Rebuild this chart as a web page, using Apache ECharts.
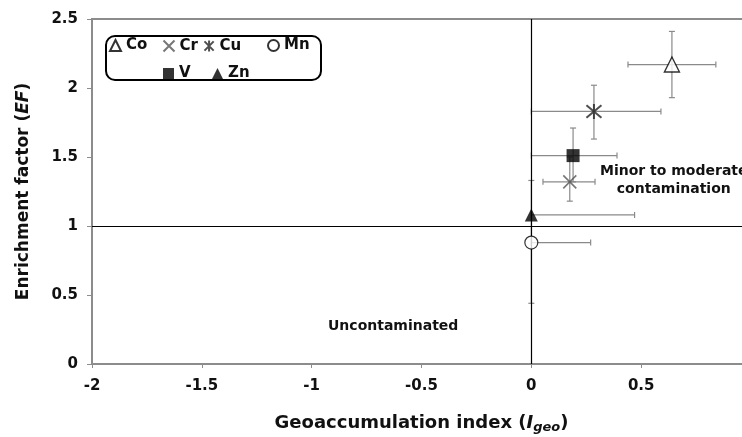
<!DOCTYPE html>
<html>
<head>
<meta charset="utf-8">
<style>
  html, body { margin: 0; padding: 0; background: #fff; }
  #chart { width: 742px; height: 437px; }
</style>
<script src="https://cdn.jsdelivr.net/npm/echarts@6/dist/echarts.min.js"></script>
</head>
<body>
<div id="chart"></div>
<script>
// elements and their values
var elements = ['Co', 'Cr', 'Cu', 'Mn', 'V', 'Zn'];
var igeo     = [0.64, 0.175, 0.285, 0.0, 0.19, 0.0];
var igeoLow  = [0.44, 0.053, 0.0, 0.0, 0.0, 0.0];
var igeoHigh = [0.84, 0.29, 0.59, 0.27, 0.39, 0.47];
var ef       = [2.17, 1.32, 1.83, 0.88, 1.51, 1.08];
var efLow    = [1.93, 1.18, 1.63, 0.44, 1.32, 1.08];
var efHigh   = [2.41, 1.50, 2.02, 1.33, 1.71, 1.08];
var xTicks = [-2, -1.5, -1, -0.5, 0, 0.5, 1];
var yTicks = [0, 0.5, 1, 1.5, 2, 2.5];

var FONT = '"DejaVu Sans", "Liberation Sans", Arial, sans-serif';
var CROSS = 'path://M0,0L10,10M10,0L0,10';
var STAR = 'path://M0,0L10,10M10,0L0,10M5,-1L5,11';

// marker style per element
var markerStyle = {
  Co: { symbol: 'triangle', size: 15, itemStyle: { color: '#fff', borderColor: '#000', borderWidth: 1.4 } },
  Cr: { symbol: CROSS, size: 13, itemStyle: { color: 'none', borderColor: '#555', borderWidth: 1.6 } },
  Cu: { symbol: STAR, size: 15, itemStyle: { color: 'none', borderColor: '#222', borderWidth: 2 } },
  Mn: { symbol: 'circle', size: 13, itemStyle: { color: '#fff', borderColor: '#000', borderWidth: 1.2 } },
  V:  { symbol: 'rect', size: 13, itemStyle: { color: '#000', borderColor: '#000', borderWidth: 0 } },
  Zn: { symbol: 'triangle', size: 13, itemStyle: { color: '#000', borderColor: '#000', borderWidth: 0 } }
};
// legend icon positions inside the box
var legendSpots = { Co: [109, 38], Cr: [161, 38], Cu: [202, 38], Mn: [267, 38], V: [163, 66], Zn: [212, 66] };

var errData = elements.map(function (e, i) {
  return [igeo[i], ef[i], igeoLow[i], igeoHigh[i], efLow[i], efHigh[i]];
});

function renderErr(params, api) {
  var c = api.coord([api.value(0), api.value(1)]);
  var xl = api.coord([api.value(2), api.value(1)]);
  var xh = api.coord([api.value(3), api.value(1)]);
  var yl = api.coord([api.value(0), api.value(4)]);
  var yh = api.coord([api.value(0), api.value(5)]);
  var st = { stroke: '#8a8a8a', lineWidth: 1.2 };
  var cap = 3;
  var kids = [];
  if (xh[0] - xl[0] > 1) {
    kids.push({ type: 'line', shape: { x1: xl[0], y1: c[1], x2: xh[0], y2: c[1] }, style: st });
    kids.push({ type: 'line', shape: { x1: xl[0], y1: c[1] - cap, x2: xl[0], y2: c[1] + cap }, style: st });
    kids.push({ type: 'line', shape: { x1: xh[0], y1: c[1] - cap, x2: xh[0], y2: c[1] + cap }, style: st });
  }
  if (yl[1] - yh[1] > 1) {
    kids.push({ type: 'line', shape: { x1: c[0], y1: yl[1], x2: c[0], y2: yh[1] }, style: st });
    kids.push({ type: 'line', shape: { x1: c[0] - cap, y1: yl[1], x2: c[0] + cap, y2: yl[1] }, style: st });
    kids.push({ type: 'line', shape: { x1: c[0] - cap, y1: yh[1], x2: c[0] + cap, y2: yh[1] }, style: st });
  }
  return { type: 'group', children: kids };
}

var series = [
  {
    type: 'custom',
    renderItem: renderErr,
    data: errData,
    z: 2,
    silent: true
  },
  {
    type: 'line',
    data: [],
    silent: true,
    markLine: {
      silent: true,
      symbol: 'none',
      label: { show: false },
      lineStyle: { color: '#000', width: 1.2, type: 'solid' },
      data: [{ xAxis: 0 }, { yAxis: 1 }]
    },
    z: 1
  }
];
elements.forEach(function (e, i) {
  var m = markerStyle[e];
  series.push({
    name: e,
    type: 'scatter',
    symbol: m.symbol,
    symbolSize: m.size,
    itemStyle: m.itemStyle,
    data: [[igeo[i], ef[i]]],
    z: 5,
    emphasis: { disabled: true }
  });
});

var legends = elements.map(function (e) {
  return {
    data: [e],
    left: legendSpots[e][0],
    top: legendSpots[e][1],
    itemWidth: 11,
    itemHeight: 11,
    selectedMode: false,
    padding: 0,
    z: 20,
    textStyle: { fontFamily: FONT, fontWeight: 'bold', fontSize: 15, color: '#111' }
  };
});

var chart = echarts.init(document.getElementById('chart'), null, { renderer: 'canvas' });
chart.setOption({
  animation: false,
  backgroundColor: '#fff',
  grid: {
    left: 92, top: 19, right: -9, bottom: 73,
    outerBoundsMode: 'none',
    containLabel: false,
    show: true, borderColor: '#8c8c8c', borderWidth: 2
  },
  legend: legends,
  xAxis: {
    type: 'value',
    min: xTicks[0], max: xTicks[xTicks.length - 1], interval: 0.5,
    splitLine: { show: false },
    axisLine: { show: true, onZero: false, lineStyle: { color: '#8c8c8c', width: 2 } },
    axisTick: { show: true, length: 4, lineStyle: { color: '#8c8c8c' } },
    axisLabel: { fontFamily: FONT, fontWeight: 'bold', fontSize: 15, color: '#111', margin: 15 },
    name: '{n|Geoaccumulation index (}{i|I}{s|geo}{n|)}',
    nameLocation: 'middle',
    nameGap: 49,
    nameTextStyle: {
      rich: {
        n: { fontFamily: FONT, fontWeight: 'bold', fontSize: 18, color: '#111' },
        i: { fontFamily: FONT, fontWeight: 'bold', fontStyle: 'italic', fontSize: 18, color: '#111' },
        s: { fontFamily: FONT, fontWeight: 'bold', fontStyle: 'italic', fontSize: 13, color: '#111', verticalAlign: 'bottom', padding: [8, 0, 0, 0] }
      }
    }
  },
  yAxis: {
    type: 'value',
    min: yTicks[0], max: yTicks[yTicks.length - 1], interval: 0.5,
    splitLine: { show: false },
    axisLine: { show: true, onZero: false, lineStyle: { color: '#8c8c8c', width: 2 } },
    axisTick: { show: true, length: 5, lineStyle: { color: '#8c8c8c' } },
    axisLabel: { fontFamily: FONT, fontWeight: 'bold', fontSize: 15, color: '#111', margin: 14 },
    name: '{n|Enrichment factor (}{i|EF}{n|)}',
    nameLocation: 'middle',
    nameGap: 60,
    nameTextStyle: {
      rich: {
        n: { fontFamily: FONT, fontWeight: 'bold', fontSize: 17, color: '#111' },
        i: { fontFamily: FONT, fontWeight: 'bold', fontStyle: 'italic', fontSize: 17, color: '#111' }
      }
    }
  },
  graphic: [
    {
      type: 'rect', left: 105, top: 35, z: 10,
      shape: { width: 215, height: 44, r: 9 },
      style: { fill: '#fff', stroke: '#000', lineWidth: 2 }
    },
    {
      type: 'text', z: 10,
      left: 600, top: 162,
      style: { text: 'Minor to moderate\ncontamination', textAlign: 'center', fontFamily: FONT, fontWeight: 'bold', fontSize: 14, lineHeight: 18, fill: '#111' }
    },
    {
      type: 'text', left: 328, top: 319, z: 10,
      style: { text: 'Uncontaminated', fontFamily: FONT, fontWeight: 'bold', fontSize: 14, fill: '#111' }
    }
  ],
  series: series
});
</script>
</body>
</html>
